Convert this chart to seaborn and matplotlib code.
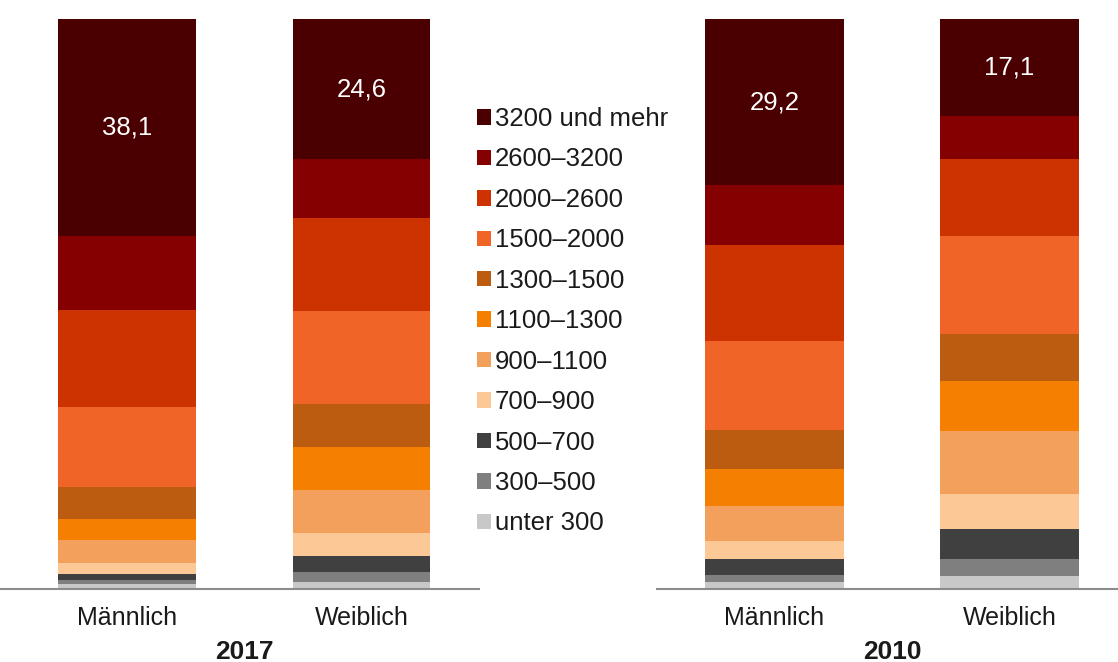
import matplotlib
matplotlib.use("Agg")
import matplotlib.pyplot as plt
import matplotlib.transforms as mtransforms
from matplotlib.patches import Patch
import seaborn as sns
import pandas as pd

# ---- data ----
categories = ["3200 und mehr", "2600–3200", "2000–2600", "1500–2000", "1300–1500",
              "1100–1300", "900–1100", "700–900", "500–700", "300–500", "unter 300"]
genders = ["Männlich", "Weiblich"]
years = ["2017", "2010"]
m2017 = [38.1, 13.0, 17.0, 14.0, 5.6, 3.7, 4.0, 1.9, 1.2, 0.7, 0.8]
w2017 = [24.6, 10.3, 16.3, 16.4, 7.4, 7.7, 7.5, 4.0, 2.8, 1.8, 1.2]
m2010 = [29.2, 10.5, 16.8, 15.6, 6.8, 6.5, 6.1, 3.3, 2.8, 1.2, 1.2]
w2010 = [17.1, 7.4, 13.5, 17.3, 8.2, 8.8, 11.1, 6.0, 5.3, 3.0, 2.3]
colors = ["#4a0000", "#850000", "#cc3300", "#f06428", "#bb5c10",
          "#f57f00", "#f2a05c", "#fcc895", "#404040", "#7f7f7f", "#c8c8c8"]

sns.set_theme(style="white")
plt.rcParams['font.family'] = ['Liberation Sans', 'DejaVu Sans']

W, H = 1118, 662
fig = plt.figure(figsize=(W / 100, H / 100), dpi=100)

panels = [
    (years[0], m2017, w2017, [0 / W, 73 / H, 479 / W, 570 / H], (-0.542, 1.501)),
    (years[1], m2010, w2010, [657 / W, 73 / H, 461 / W, 570 / H], (-0.5, 1.462)),
]

bar_w = 0.588
for year, mvals, wvals, rect, xl in panels:
    ax = fig.add_axes(rect)
    df = pd.DataFrame({"Geschlecht": genders})
    n = len(categories)
    # cumulative heights from the bottom up to each category (overlay stacking)
    for i in range(n):
        df["cum"] = [sum(mvals[i:]), sum(wvals[i:])]
        sns.barplot(data=df, x="Geschlecht", y="cum", color=colors[i],
                    saturation=1, width=bar_w, errorbar=None, linewidth=0,
                    edgecolor="none", ax=ax)
    # value label for top segment
    for xi, vals in enumerate([mvals, wvals]):
        below = sum(vals[1:])
        ax.text(xi, below + vals[0] / 2, f"{vals[0]:.1f}".replace(".", ","),
                ha="center", va="center", color="white", fontsize=18.5)
    ax.set_xlim(*xl)
    ax.set_ylim(0, 100)
    ax.set_ylabel("")
    ax.set_xlabel("")
    ax.set_yticks([])
    for s in ["top", "right", "left"]:
        ax.spines[s].set_visible(False)
    ax.spines["bottom"].set_color("#8c8c8c")
    ax.spines["bottom"].set_linewidth(1.5)
    ax.tick_params(axis="x", length=0, pad=12, labelsize=18, colors="#1a1a1a")
    trans = mtransforms.blended_transform_factory(ax.transData, ax.transAxes)
    ax.text(0.5, -0.11, year, transform=trans, ha="center", va="center",
            fontsize=19, fontweight="bold", color="#1a1a1a")

handles = [Patch(facecolor=c, edgecolor="none") for c in colors]
fig.legend(handles, categories, loc="upper left",
           bbox_to_anchor=(477 / W, 1 - 107 / H), frameon=False,
           fontsize=18.5, handlelength=0.55, handleheight=0.55,
           handletextpad=0.15, labelspacing=0.64, borderpad=0,
           borderaxespad=0, labelcolor="#1a1a1a")

fig.savefig("out.png", dpi=100)
